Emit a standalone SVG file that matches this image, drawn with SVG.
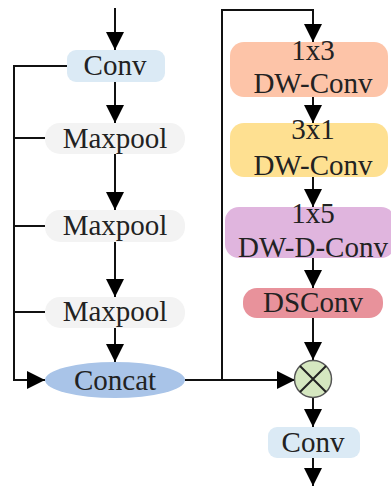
<svg xmlns="http://www.w3.org/2000/svg" width="391" height="486" viewBox="0 0 391 486">
<defs>
<marker id="ah" markerUnits="userSpaceOnUse" markerWidth="18" markerHeight="18" viewBox="0 0 18 18" refX="18" refY="9" orient="auto">
<path d="M0,0 L18,9 L0,18 Z" fill="#000"/>
</marker>
<style>
.t{font-family:"Liberation Serif","Times New Roman",serif;font-size:29px;fill:#222;text-anchor:middle}
.c{fill:none;stroke:#111;stroke-width:2}
.a{marker-end:url(#ah)}
</style>
</defs>
<rect width="391" height="486" fill="#fff"/>
<g id="connectors">
<path class="c a" d="M115,8 L115,50"/>
<path class="c a" d="M115,82 L115,123"/>
<path class="c a" d="M115,154 L115,210"/>
<path class="c a" d="M115,242 L115,297"/>
<path class="c a" d="M115,328 L115,362"/>
<path class="c a" d="M67,66 L14,66 L14,380 L45,380"/>
<path class="c" d="M14,138 L45,138 M14,226 L45,226 M14,312 L45,312"/>
<path class="c a" d="M185,380 L295,380"/>
<path class="c a" d="M222,380 L222,10 L313,10 L313,42"/>
<path class="c a" d="M313,97 L313,123"/>
<path class="c a" d="M313,177 L313,207"/>
<path class="c a" d="M313,258 L313,288"/>
<path class="c a" d="M313,318 L313,360"/>
<path class="c a" d="M313,397 L313,427"/>
<path class="c a" d="M313,458 L313,486"/>
</g>
<g id="conv1">
<rect x="67" y="50" width="98" height="32" rx="9" fill="#dbeaf5"/>
<text class="t" x="115" y="75">Conv</text>
</g>
<g id="maxpool1">
<rect x="45" y="123" width="140" height="31" rx="15" fill="#f3f3f3"/>
<text class="t" x="115" y="148">Maxpool</text>
</g>
<g id="maxpool2">
<rect x="45" y="210" width="140" height="32" rx="15" fill="#f3f3f3"/>
<text class="t" x="115" y="235">Maxpool</text>
</g>
<g id="maxpool3">
<rect x="45" y="297" width="140" height="31" rx="15" fill="#f3f3f3"/>
<text class="t" x="115" y="321">Maxpool</text>
</g>
<g id="concat">
<ellipse cx="115" cy="380" rx="70" ry="18" fill="#a9c4e8"/>
<text class="t" x="115" y="390">Concat</text>
</g>
<g id="dw13">
<rect x="230" y="42" width="158" height="55" rx="14" fill="#fdc4a8"/>
<text class="t" x="313" y="60">1x3</text>
<text class="t" x="313" y="93">DW-Conv</text>
</g>
<g id="dw31">
<rect x="230" y="123" width="158" height="54" rx="14" fill="#fee091"/>
<text class="t" x="313" y="139">3x1</text>
<text class="t" x="313" y="175">DW-Conv</text>
</g>
<g id="dwd15">
<rect x="225" y="207" width="170" height="51" rx="14" fill="#e0b5de"/>
<text class="t" x="313" y="223">1x5</text>
<text class="t" x="313" y="257">DW-D-Conv</text>
</g>
<g id="dsconv">
<rect x="243" y="288" width="140" height="30" rx="14" fill="#e8929b"/>
<text class="t" x="313" y="312">DSConv</text>
</g>
<g id="multiply">
<circle cx="313" cy="379" r="18.5" fill="#d5e7c0" stroke="#555" stroke-width="1.5"/>
<path d="M300,366 L326,392 M326,366 L300,392" stroke="#222" stroke-width="2"/>
</g>
<g id="conv2">
<rect x="268" y="427" width="92" height="31" rx="9" fill="#dbeaf5"/>
<text class="t" x="313" y="452">Conv</text>
</g>
</svg>
